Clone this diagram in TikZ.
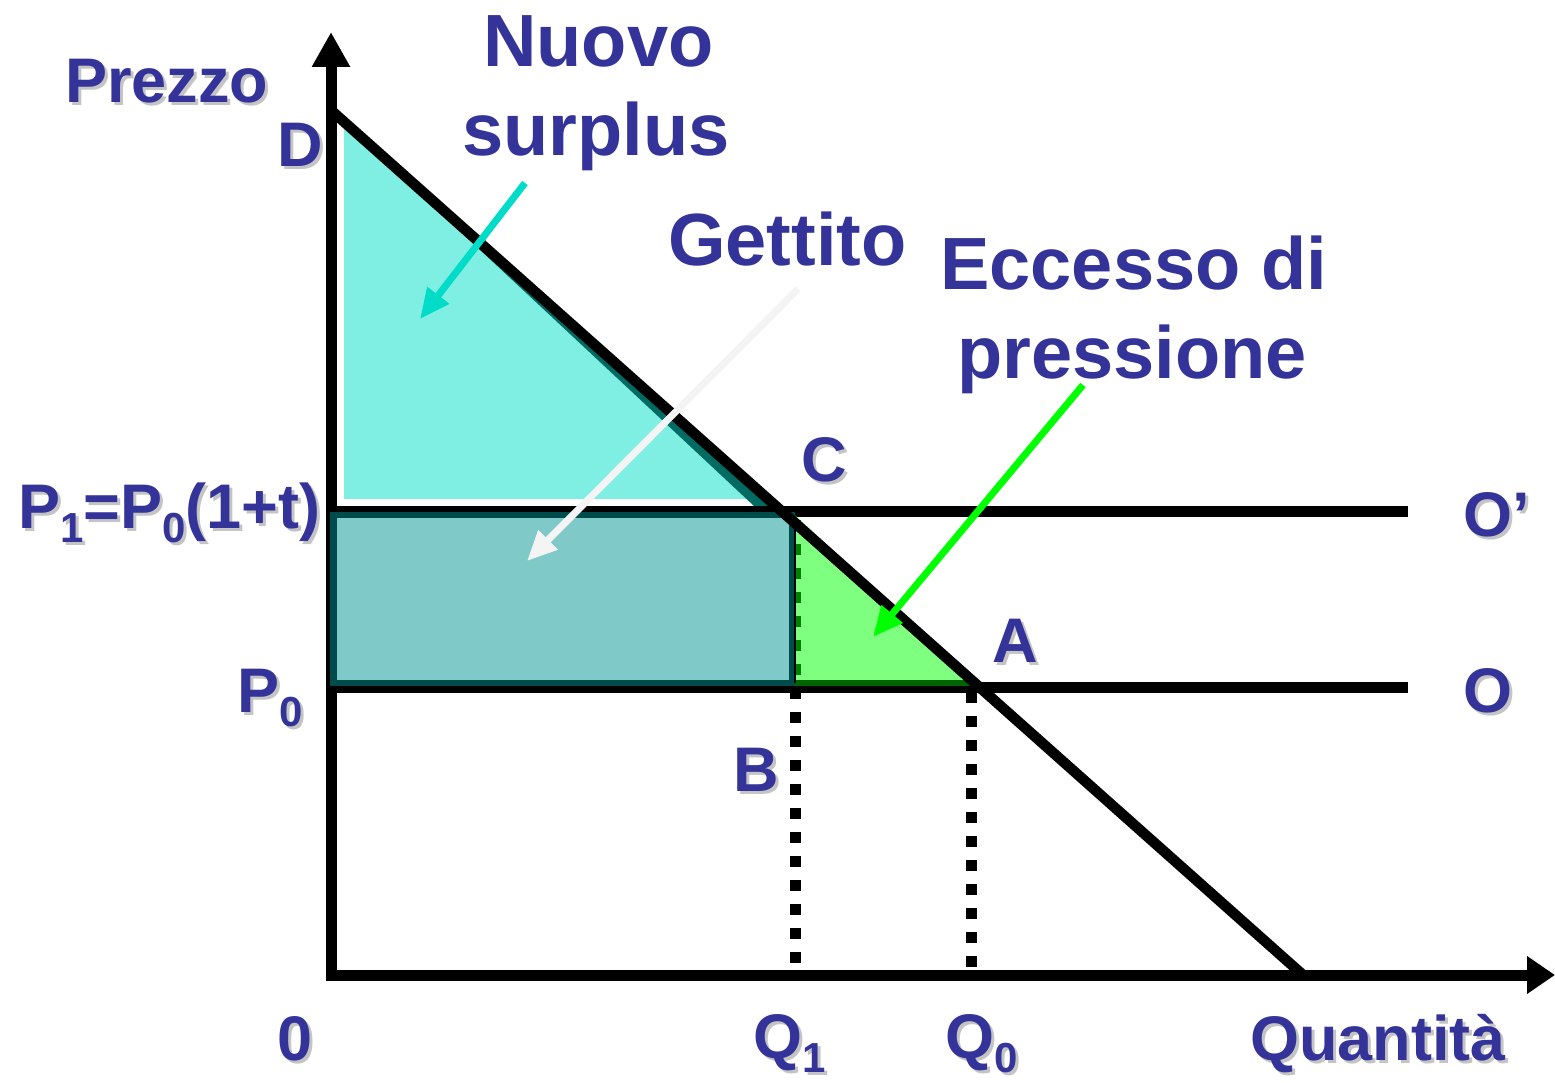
\documentclass[tikz,border=0pt]{standalone}
\usepackage{fontspec}
\setmainfont{Liberation Sans}
\usetikzlibrary{arrows.meta}
\definecolor{lblue}{HTML}{333399}
\definecolor{shgrey}{HTML}{C4C4C4}
\definecolor{cyanfill}{HTML}{80EFE3}
\definecolor{tealband}{HTML}{006B63}
\definecolor{rectfill}{HTML}{009595}
\definecolor{rectedge}{HTML}{004C4C}
\definecolor{greenedge}{HTML}{006400}
\definecolor{cyanarrow}{HTML}{00DCC8}
\definecolor{whitearrow}{HTML}{F4F4F4}
\newcommand\sbs[1]{\raisebox{-14pt}{\fontsize{42}{42}\selectfont #1}}
\newcommand\shlbl[3]{%
  \node[lbl,text=shgrey,xshift=3pt,yshift=-3pt] at (#2) {#3};
  \node[lbl] (#1) at (#2) {#3};}
\begin{document}
\begin{tikzpicture}[x=1pt,y=-1pt,
  lbl/.style={inner sep=0pt, anchor=base west, text=lblue, font=\bfseries\fontsize{63}{70}\selectfont},
  big/.style={inner sep=0pt, anchor=base west, text=lblue, font=\bfseries\fontsize{74}{80}\selectfont},
  axisline/.style={line width=11pt},
  hline/.style={line width=11pt},
  dotline/.style={line width=11pt, dash pattern=on 11pt off 13pt},
  ptr/.style={line width=7pt, -{Triangle[length=30pt,width=26pt]}},
]
\useasboundingbox (0,0) rectangle (1555,1083);
\fill[white] (0,0) rectangle (1555,1083);

% Nuovo surplus triangle
\fill[cyanfill] (340,119) -- (340,503) -- (775,503) -- cycle;
\draw[white, line width=8pt] (340,119) -- (340,503) -- (775,503);
\fill[tealband] (340,119) -- (775,506) -- (754,506) -- cycle;

% dotted lines
\draw[dotline] (795,520) -- (795,970);
\draw[dotline] (971,692) -- (971,970);

% axes
\draw[axisline, -{Triangle[length=35pt,width=36pt]}] (331,980) -- (331,32);
\draw[axisline, -{Triangle[length=28pt,width=36pt]}] (326,975) -- (1555,975);

% supply lines
\draw[hline] (331,511) -- (1408,511);
\draw[hline] (331,687) -- (1408,687);

% Gettito rectangle
\fill[rectfill, fill opacity=0.5] (333,515) rectangle (792,683);
\draw[rectedge, line width=6pt] (333,515) rectangle (792,683);

% Eccesso di pressione triangle
\fill[green, fill opacity=0.5] (795,515) -- (795,683) -- (975,683) -- cycle;
\draw[greenedge, line width=6pt] (795,683) -- (972,683);
\draw[black, line width=1.5pt] (795,518) -- (795,683);

% demand line
\draw[line width=10.5pt] (333,112) -- (1303,975);

% pointer arrows
\coordinate (cs) at (525,183);
\coordinate (ce) at (420,319);
\coordinate (ws) at (798,289);
\coordinate (we) at (527,561);
\coordinate (gs) at (1083,385);
\coordinate (ge) at (873,637);
\draw[ptr, cyanarrow] (cs) -- (ce);
\draw[ptr, whitearrow] (ws) -- (we);
\draw[ptr, green] (gs) -- (ge);

% labels with shadow
\shlbl{prezzo}{65,103}{Prezzo}
\shlbl{D}{277,167}{D}
\shlbl{P1}{18,528}{P\sbs{1}=P\sbs{0}(1+t)}
\shlbl{P0}{237,712}{P\sbs{0}}
\shlbl{C}{801,481}{C}
\shlbl{A}{992,662}{A}
\shlbl{Op}{1463,536}{O’}
\shlbl{O}{1463,712}{O}
\shlbl{B}{733,791}{B}
\shlbl{zero}{277,1060}{0}
\shlbl{Q1}{753,1058}{Q\sbs{1}}
\shlbl{Q0}{945,1058}{Q\sbs{0}}
\shlbl{quant}{1250,1060}{Quantità}

% annotation labels
\node[big] (nuovo) at (483,67) {Nuovo};
\node[big] (surplus) at (462,156) {surplus};
\node[big] (gettito) at (668,266) {Gettito};
\node[big] (eccesso) at (940,290) {Eccesso di};
\node[big] (press) at (957,378) {pressione};
\end{tikzpicture}
\end{document}
